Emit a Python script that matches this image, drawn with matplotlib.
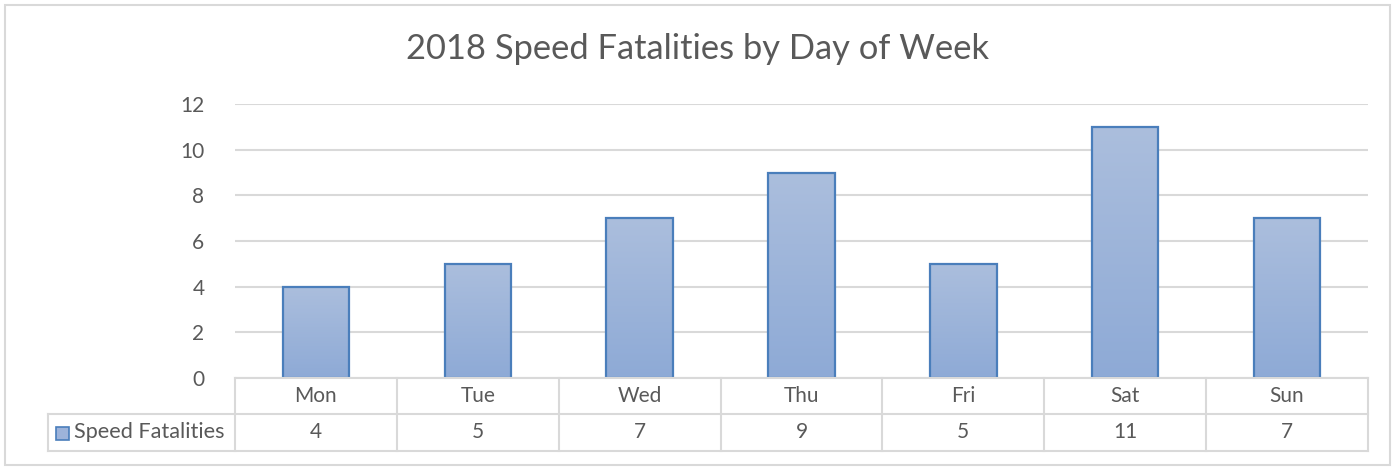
import numpy as np
import matplotlib.pyplot as plt
from matplotlib.patches import Rectangle
from matplotlib.colors import LinearSegmentedColormap

days = ["Mon", "Tue", "Wed", "Thu", "Fri", "Sat", "Sun"]
fatalities = [4, 5, 7, 9, 5, 11, 7]
series_name = "Speed Fatalities"
y_ticks = [0, 2, 4, 6, 8, 10, 12]

plt.rcParams["font.family"] = ["Lato", "DejaVu Sans"]
GRID = "#d9d9d9"
TEXT = "#595959"
FS = 15

W, H = 1396, 467
fig = plt.figure(figsize=(W / 100, H / 100), dpi=100)

# plot area in pixels
left, right, top, bottom = 235, 1368, 104, 378
ax = fig.add_axes([left / W, 1 - bottom / H, (right - left) / W, (bottom - top) / H])

n = len(days)
x = np.arange(n)

fade = LinearSegmentedColormap.from_list("fade", ["#8eaad6", "#abbedd"])
grad = np.linspace(0, 1, 100).reshape(-1, 1)
bars = ax.bar(x, fatalities, width=0.41, color="none", edgecolor="#4a7ebb",
              linewidth=1.6, zorder=3)
for b in bars:
    x0, y0 = b.get_x(), b.get_y()
    im = ax.imshow(grad, cmap=fade, origin="lower", aspect="auto",
                   extent=[x0, x0 + b.get_width(), y0, y0 + b.get_height()], zorder=2)
    im.set_clip_path(b)
ax.set_xlim(-0.5, n - 0.5)
ax.set_ylim(0, 12)

ax.set_yticks(y_ticks)
ax.yaxis.grid(True, color=GRID, linewidth=1.5)
ax.set_axisbelow(True)
ax.tick_params(axis="y", length=0, pad=22, labelsize=FS, labelcolor=TEXT)
ax.set_xticks([])
for s in ax.spines.values():
    s.set_visible(False)

# data table under the axis
tr = fig.transFigure
row1, row2, row3 = bottom, 414, 451
leg_left = 48
def fy(py):
    return 1 - py / H
col_w = (right - left) / n
lines = [
    ([left, right], [row1, row1]),
    ([leg_left, right], [row2, row2]),
    ([leg_left, right], [row3, row3]),
    ([leg_left, leg_left], [row2, row3]),
]
for i in range(n + 1):
    xp = left + i * col_w
    lines.append(([xp, xp], [row1, row3]))
for xs, ys in lines:
    fig.add_artist(plt.Line2D([v / W for v in xs], [fy(v) for v in ys],
                              color=GRID, linewidth=1.5, transform=tr))
for i, (d, v) in enumerate(zip(days, fatalities)):
    cx = (left + (i + 0.5) * col_w) / W
    fig.text(cx, fy((row1 + row2) / 2), d, ha="center", va="center",
             fontsize=FS, color=TEXT)
    fig.text(cx, fy((row2 + row3) / 2), str(v), ha="center", va="center",
             fontsize=FS, color=TEXT)

# legend key in the series row
fig.add_artist(Rectangle((56 / W, fy(440)), 13 / W, 13 / H, transform=tr,
                         facecolor="#9db3da", edgecolor="#4a7ebb", linewidth=1.2))
fig.text(74 / W, fy((row2 + row3) / 2), series_name, ha="left", va="center",
         fontsize=FS + 0.6, color=TEXT)

fig.text(0.5, fy(49), "2018 Speed Fatalities by Day of Week", ha="center",
         va="center", fontsize=24.8, color=TEXT)

# chart frame
fig.add_artist(Rectangle((5 / W, fy(465)), 1385 / W, 460 / H, transform=tr,
                         facecolor="none", edgecolor=GRID, linewidth=1.5))

fig.savefig("out.png", dpi=100)
